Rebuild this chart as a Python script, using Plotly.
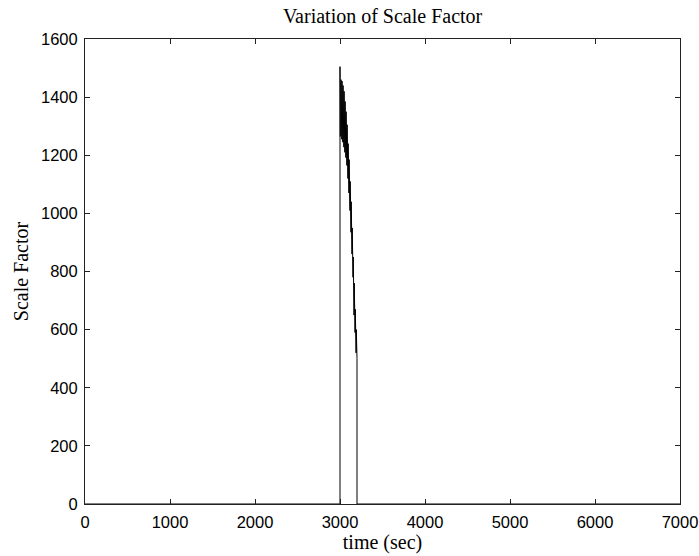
import plotly.graph_objects as go

# Spike region (time in sec, scale factor)
spike_time = [3000, 3003, 3006, 3009, 3012, 3015, 3018, 3021, 3024, 3027,
              3030, 3033, 3036, 3039, 3042, 3045, 3048, 3051, 3054, 3057,
              3060, 3063, 3066, 3069, 3072, 3075, 3078, 3081, 3084, 3087,
              3090, 3093, 3096, 3099, 3102, 3105, 3108, 3111, 3114, 3117,
              3120, 3123, 3126, 3129, 3132, 3135, 3138, 3141, 3144, 3147,
              3150, 3153, 3156, 3159, 3162, 3165, 3168, 3171, 3174, 3177,
              3180, 3183, 3186, 3189, 3192, 3195, 3198, 3200]
spike_vals = [1505, 1265, 1440, 1270, 1460, 1262, 1450, 1255, 1455, 1250,
              1445, 1245, 1440, 1232, 1430, 1228, 1420, 1215, 1400, 1210,
              1385, 1200, 1365, 1192, 1350, 1180, 1330, 1165, 1305, 1150,
              1275, 1120, 1240, 1090, 1210, 1070, 1185, 1030, 1145, 1010,
              1110, 980, 1070, 935, 1040, 900, 1000, 860, 950, 830,
              900, 780, 850, 700, 820, 650, 760, 620, 720, 590,
              670, 560, 630, 520, 600, 500, 560, 500]

time = [0, 3000] + spike_time + [3200, 7000]
scale_factor = [0, 0] + spike_vals + [0, 0]

x_ticks = [0, 1000, 2000, 3000, 4000, 5000, 6000, 7000]
y_ticks = [0, 200, 400, 600, 800, 1000, 1200, 1400, 1600]

fig = go.Figure()
fig.add_trace(go.Scatter(x=time, y=scale_factor, mode="lines",
                         line=dict(color="black", width=1), showlegend=False))

axis_common = dict(showline=True, linecolor="#222", linewidth=1, mirror="allticks",
                   ticks="inside", ticklen=5, tickcolor="#222", showgrid=False,
                   zeroline=False, automargin=False, ticklabelstandoff=3,
                   tickfont=dict(family="Liberation Sans", size=16.5, color="black"))

fig.update_xaxes(range=[0, 7000], tickvals=x_ticks, ticktext=[str(v) for v in x_ticks],
                 title=dict(text="time (sec)", font=dict(family="Liberation Serif", size=20, color="black"),
                            standoff=2),
                 **axis_common)
fig.update_yaxes(range=[0, 1600], tickvals=y_ticks, ticktext=[str(v) for v in y_ticks],
                 title=dict(text="Scale Factor", font=dict(family="Liberation Serif", size=20, color="black"),
                            standoff=6),
                 **axis_common)

fig.update_layout(
    width=699, height=556,
    margin=dict(l=85, r=19, t=39, b=52),
    paper_bgcolor="white", plot_bgcolor="white",
    title=dict(text="Variation of Scale Factor", x=0.5473, xanchor="center", y=0.971, yanchor="middle",
               font=dict(family="Liberation Serif", size=20, color="black")),
)

fig.write_html("out.html")
